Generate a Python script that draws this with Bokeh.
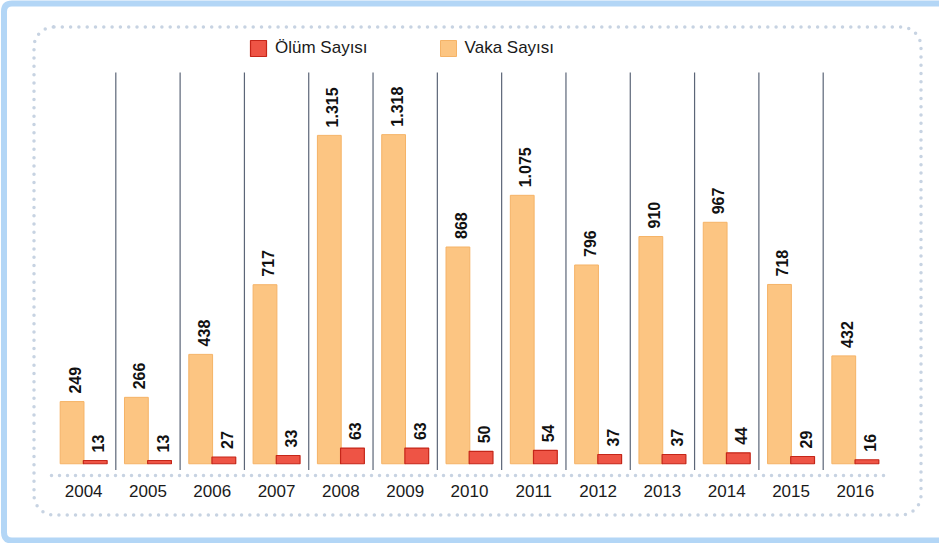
import math
from bokeh.plotting import figure
from bokeh.models import ColumnDataSource, FactorRange, Range1d, Legend, LegendItem, Div
from bokeh.layouts import column
from bokeh.transform import dodge
from bokeh.core.properties import value
from bokeh.embed import file_html
from bokeh.resources import INLINE

years = ["2004", "2005", "2006", "2007", "2008", "2009", "2010", "2011", "2012", "2013", "2014", "2015", "2016"]
vaka = [249, 266, 438, 717, 1315, 1318, 868, 1075, 796, 910, 967, 718, 432]
olum = [13, 13, 27, 33, 63, 63, 50, 54, 37, 37, 44, 29, 16]

def fmt(v):
    return f"{v:,}".replace(",", ".")

src = ColumnDataSource(dict(
    year=years, vaka=vaka, olum=olum,
    vaka_lbl=[fmt(v) for v in vaka], olum_lbl=[fmt(v) for v in olum],
))
sep_src = ColumnDataSource(dict(year=years[:-1], y0=[-25] * 12, y1=[1567] * 12))

FONT = "Liberation Sans"

p = figure(
    width=939, height=543, output_backend="svg", toolbar_location=None,
    x_range=FactorRange(*years, range_padding=0), y_range=Range1d(-47, 1731),
    min_border_left=51, min_border_right=52, min_border_top=31, min_border_bottom=68,
    background_fill_color="white", border_fill_color="white", margin=0,
)
p.outline_line_color = None
p.grid.visible = False
p.yaxis.visible = False

# separators between years
p.segment(x0=dodge("year", 0.5, range=p.x_range), y0="y0",
          x1=dodge("year", 0.5, range=p.x_range), y1="y1",
          source=sep_src, line_color="#5b6577", line_width=1.2)

r_vaka = p.vbar(x=dodge("year", -0.18, range=p.x_range), top="vaka", bottom=0, width=0.37,
                source=src, fill_color="#fcc582", line_color="#f5b367", line_width=1)
r_olum = p.vbar(x=dodge("year", 0.18, range=p.x_range), top="olum", bottom=0, width=0.37,
                source=src, fill_color="#ee5445", line_color="#c52619", line_width=1.2)

for col, lbl in (("vaka", "vaka_lbl"), ("olum", "olum_lbl")):
    off = -0.18 if col == "vaka" else 0.18
    p.text(x=dodge("year", off, range=p.x_range), y=col, text=lbl, source=src,
           angle=math.pi / 2, text_align="left", text_baseline="middle",
           x_offset=3, y_offset=-8, text_font=value(FONT), text_font_style="bold",
           text_font_size="16px", text_color="#111111")

ax = p.xaxis[0]
ax.major_tick_line_color = None
ax.minor_tick_line_color = None
ax.axis_line_color = "#c7d3e2"
ax.axis_line_width = 3.5
ax.axis_line_dash = "0 8"
ax.axis_line_cap = "round"
ax.major_label_text_font = FONT
ax.major_label_text_font_size = "17px"
ax.major_label_text_color = "#1a1a1a"
ax.major_label_standoff = 3

legend = Legend(
    items=[LegendItem(label="Ölüm Sayısı", renderers=[r_olum]),
           LegendItem(label="Vaka Sayısı", renderers=[r_vaka])],
    orientation="horizontal", location=(197, 417),
    glyph_width=20, glyph_height=20, label_standoff=7, spacing=70,
    padding=0, margin=0, border_line_color=None, background_fill_alpha=0,
    label_text_font=FONT, label_text_font_size="17px", label_text_color="#1a1a1a",
)
p.add_layout(legend, "center")

frame_svg = (
    '<svg width="939" height="543" xmlns="http://www.w3.org/2000/svg" style="display:block">'
    '<path d="M 990 3.5 L 12 3.5 Q 4 3.5 4 11.5 L 4 532.5 Q 4 540.5 12 540.5 L 990 540.5" '
    'fill="none" stroke="#b3d6f6" stroke-width="6"/>'
    '<rect x="34" y="27" width="887" height="488" rx="20" ry="20" fill="none" '
    'stroke="#c7d3e2" stroke-width="3.5" stroke-dasharray="0 8.3" stroke-linecap="round"/>'
    '</svg>'
)
deco = Div(text=frame_svg, width=939, height=543, margin=0,
           styles={"position": "absolute", "left": "0px", "top": "0px", "margin": "0px",
                   "padding": "0px", "pointer-events": "none", "z-index": "5"})

layout = column(p, deco, width=939, height=543, margin=0)
open("out.html", "w").write(file_html(layout, INLINE))
